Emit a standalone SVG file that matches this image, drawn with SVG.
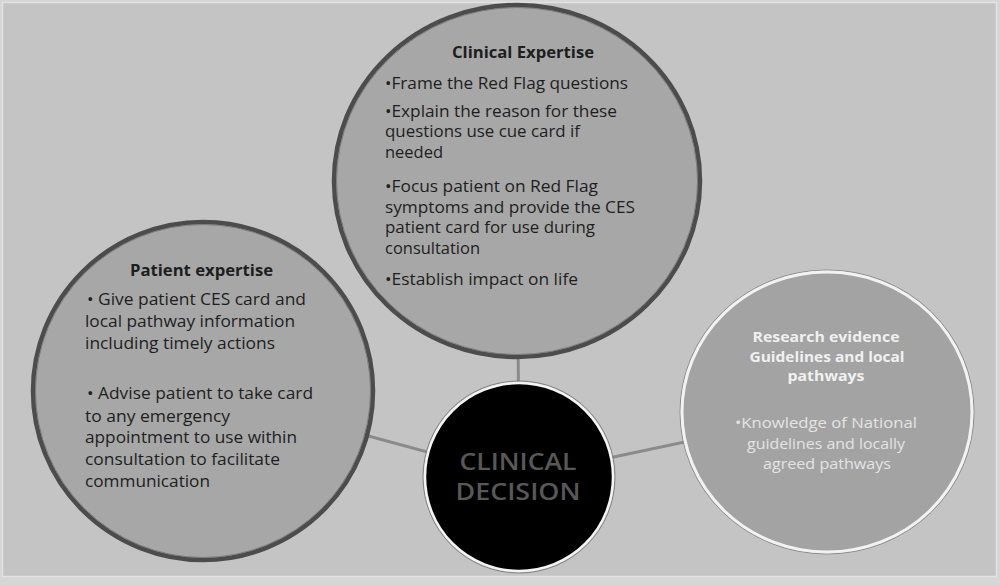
<svg xmlns="http://www.w3.org/2000/svg" width="1000" height="586" viewBox="0 0 1000 586">
  <style>
    .t { font-family: "Open Sans", "Noto Sans", "Liberation Sans", sans-serif; font-size: 16px; fill: #1e1e1e; }
    .b { font-weight: bold; }
    .w { fill: #f0f0f0; font-size: 15px; }
    .wl { fill: #e4e4e4; font-size: 15px; }
    .c { text-anchor: middle; }
    .conn { stroke: #8a8a8a; stroke-width: 3; fill: none; }
    .gray { fill: #a7a7a7; stroke: #4c4c4c; stroke-width: 4.5; }
    .ring { fill: none; stroke: #7c7c7c; stroke-width: 1; }
    .dec { font-family: "Open Sans", "Noto Sans", "Liberation Sans", sans-serif; font-size: 23px; font-weight: 600; fill: #585858; text-anchor: middle; }
  </style>
  <rect x="0" y="0" width="1000" height="586" fill="#d6d6d6"/>
  <rect x="2.5" y="2.5" width="994" height="574" fill="#c4c4c4" stroke="#e2e2e2" stroke-width="1.5"/>

  <g id="connectors">
    <line class="conn" x1="517" y1="181" x2="519" y2="477"/>
    <line class="conn" x1="203" y1="391" x2="519" y2="477"/>
    <line class="conn" x1="827" y1="412" x2="519" y2="477"/>
  </g>

  <g id="clinical-expertise">
    <ellipse class="gray" cx="517" cy="181" rx="183" ry="176"/>
    <ellipse class="ring" cx="517" cy="181" rx="180.5" ry="173.5"/>
    <text class="t b" x="452" y="58" textLength="142" lengthAdjust="spacingAndGlyphs">Clinical Expertise</text>
    <text class="t" x="385" y="89" textLength="243" lengthAdjust="spacingAndGlyphs">•Frame the Red Flag questions</text>
    <text class="t" x="385" y="117" textLength="232" lengthAdjust="spacingAndGlyphs">•Explain the reason for these</text>
    <text class="t" x="385" y="137" textLength="195" lengthAdjust="spacingAndGlyphs">questions use cue card if</text>
    <text class="t" x="385" y="158" textLength="58" lengthAdjust="spacingAndGlyphs">needed</text>
    <text class="t" x="385" y="192" textLength="213" lengthAdjust="spacingAndGlyphs">•Focus patient on Red Flag</text>
    <text class="t" x="385" y="213" textLength="250" lengthAdjust="spacingAndGlyphs">symptoms and provide the CES</text>
    <text class="t" x="385" y="233" textLength="210" lengthAdjust="spacingAndGlyphs">patient card for use during</text>
    <text class="t" x="385" y="254" textLength="95" lengthAdjust="spacingAndGlyphs">consultation</text>
    <text class="t" x="385" y="285" textLength="193" lengthAdjust="spacingAndGlyphs">•Establish impact on life</text>
  </g>

  <g id="patient-expertise">
    <ellipse class="gray" cx="203" cy="391" rx="170" ry="169"/>
    <ellipse class="ring" cx="203" cy="391" rx="167.5" ry="166.5"/>
    <text class="t b" x="130" y="276" textLength="143" lengthAdjust="spacingAndGlyphs">Patient expertise</text>
    <text class="t" x="87" y="305" textLength="219" lengthAdjust="spacingAndGlyphs">• Give patient CES card and</text>
    <text class="t" x="85" y="327" textLength="210" lengthAdjust="spacingAndGlyphs">local pathway information</text>
    <text class="t" x="85" y="349" textLength="190" lengthAdjust="spacingAndGlyphs">including timely actions</text>
    <text class="t" x="87" y="399" textLength="226" lengthAdjust="spacingAndGlyphs">• Advise patient to take card</text>
    <text class="t" x="85" y="422" textLength="145" lengthAdjust="spacingAndGlyphs">to any emergency</text>
    <text class="t" x="85" y="443" textLength="212" lengthAdjust="spacingAndGlyphs">appointment to use within</text>
    <text class="t" x="85" y="465" textLength="195" lengthAdjust="spacingAndGlyphs">consultation to facilitate</text>
    <text class="t" x="85" y="487" textLength="125" lengthAdjust="spacingAndGlyphs">communication</text>
  </g>

  <g id="research-evidence">
    <ellipse cx="827" cy="412" rx="147" ry="142" fill="none" stroke="#8c8c8c" stroke-width="1"/>
    <ellipse cx="827" cy="412" rx="145" ry="140" fill="#a3a3a3" stroke="#f2f2f2" stroke-width="3"/>
    <text class="t b w c" x="826" y="342" textLength="147" lengthAdjust="spacingAndGlyphs">Research evidence</text>
    <text class="t b w c" x="827" y="362" textLength="155" lengthAdjust="spacingAndGlyphs">Guidelines and local</text>
    <text class="t b w c" x="826" y="381" textLength="77" lengthAdjust="spacingAndGlyphs">pathways</text>
    <text class="t wl c" x="826" y="428" textLength="182" lengthAdjust="spacingAndGlyphs">•Knowledge of National</text>
    <text class="t wl c" x="826" y="449" textLength="158" lengthAdjust="spacingAndGlyphs">guidelines and locally</text>
    <text class="t wl c" x="827" y="469" textLength="128" lengthAdjust="spacingAndGlyphs">agreed pathways</text>
  </g>

  <g id="clinical-decision">
    <circle cx="519" cy="477" r="96" fill="none" stroke="#808080" stroke-width="1"/>
    <circle cx="519" cy="477" r="94" fill="#000000" stroke="#f4f4f4" stroke-width="2.5"/>
    <text class="dec" x="518" y="470" textLength="117" lengthAdjust="spacingAndGlyphs">CLINICAL</text>
    <text class="dec" x="518" y="500" textLength="125" lengthAdjust="spacingAndGlyphs">DECISION</text>
  </g>
</svg>
